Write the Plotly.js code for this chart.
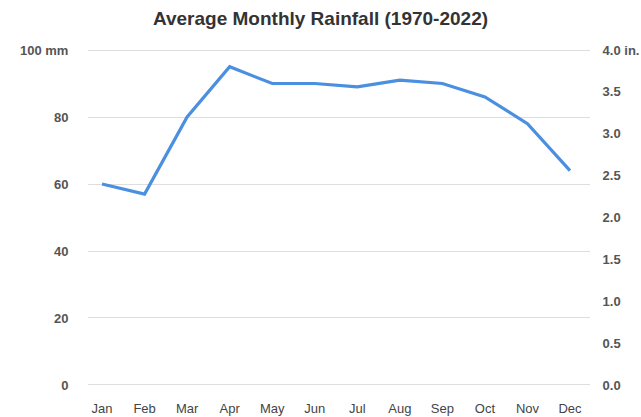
<!DOCTYPE html>
<html>
<head>
<meta charset="utf-8">
<script src="https://cdn.plot.ly/plotly-3.0.1.min.js"></script>
<style>html,body{margin:0;padding:0;background:#fff;}#chart{width:641px;height:417px;}</style>
</head>
<body>
<div id="chart"></div>
<script>
var months = ["Jan","Feb","Mar","Apr","May","Jun","Jul","Aug","Sep","Oct","Nov","Dec"];
var rainfallMm = [60, 57, 80, 95, 90, 90, 89, 91, 90, 86, 78, 64];
var mmTickVals = [0, 20, 40, 60, 80, 100];
var mmTickText = ["0", "20", "40", "60", "80", "100 mm"];
var inTickVals = [0, 0.5, 1, 1.5, 2, 2.5, 3, 3.5, 4];
var inTickText = ["0.0", "0.5", "1.0", "1.5", "2.0", "2.5", "3.0", "3.5", "4.0 in."];

var FONT = "Arial, 'Liberation Sans', sans-serif";

var trace = {
  x: months,
  y: rainfallMm,
  type: "scatter",
  mode: "lines",
  line: {color: "#4a8fe0", width: 3.2},
  hoverinfo: "x+y"
};

var dummy = {
  x: months,
  y: rainfallMm.map(function(v){return v/25;}),
  yaxis: "y2",
  type: "scatter",
  mode: "lines",
  line: {color: "rgba(0,0,0,0)", width: 0},
  hoverinfo: "skip"
};

var layout = {
  width: 641,
  height: 417,
  margin: {l: 88, r: 51, t: 45, b: 27},
  paper_bgcolor: "#fff",
  plot_bgcolor: "#fff",
  showlegend: false,
  font: {family: FONT, color: "#444"},
  title: {
    text: "<b>Average Monthly Rainfall (1970-2022)</b>",
    x: 0.5, xref: "container", xanchor: "center",
    y: 0.955, yref: "container", yanchor: "middle",
    font: {size: 19, color: "#333", family: FONT}
  },
  xaxis: {
    type: "category",
    range: [-0.33, 11.47],
    showgrid: false,
    zeroline: false,
    showline: false,
    ticks: "outside",
    ticklen: 6,
    tickcolor: "rgba(0,0,0,0)",
    tickfont: {size: 13, color: "#444", family: FONT}
  },
  yaxis: {
    range: [-1.5, 101.5],
    tickvals: mmTickVals,
    ticktext: mmTickText,
    showgrid: true,
    gridcolor: "#dedede",
    gridwidth: 1,
    zeroline: false,
    showline: false,
    ticks: "outside",
    ticklen: 16,
    tickcolor: "rgba(0,0,0,0)",
    tickfont: {size: 13, color: "#555", weight: "bold", family: FONT}
  },
  yaxis2: {
    overlaying: "y",
    side: "right",
    range: [-0.06, 4.06],
    tickvals: inTickVals,
    ticktext: inTickText,
    showgrid: false,
    zeroline: false,
    showline: false,
    ticks: "outside",
    ticklen: 9,
    tickcolor: "rgba(0,0,0,0)",
    tickfont: {size: 13, color: "#555", weight: "bold", family: FONT}
  }
};

Plotly.newPlot("chart", [dummy, trace], layout, {displayModeBar: false, staticPlot: true});
</script>
</body>
</html>
